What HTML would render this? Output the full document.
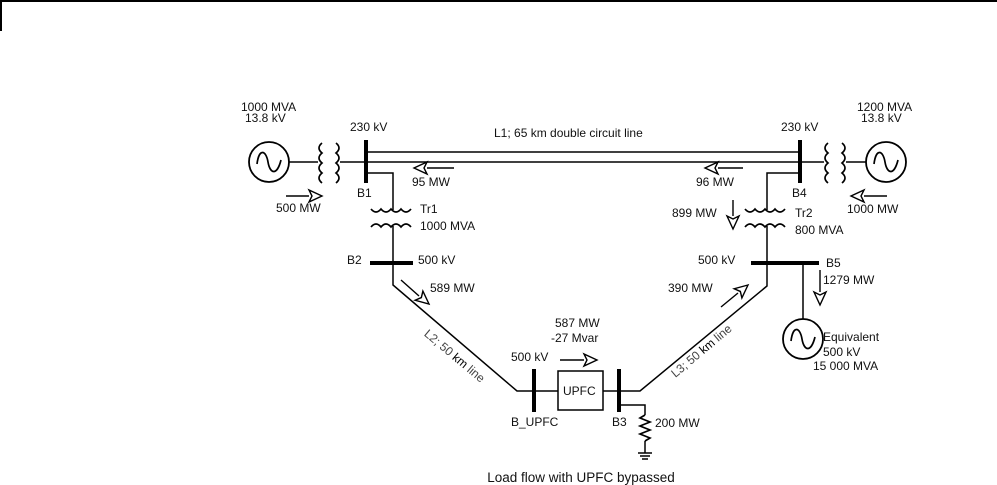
<!DOCTYPE html>
<html><head><meta charset="utf-8"><style>
html,body{margin:0;padding:0;background:#fff}
svg{display:block}
text{font-family:"Liberation Sans",sans-serif;font-size:12px;fill:#111}
</style></head><body>
<svg width="997" height="485" viewBox="0 0 997 485" xmlns="http://www.w3.org/2000/svg">
<line x1="0" y1="1" x2="997" y2="1" stroke="#000" stroke-width="2"/>
<line x1="1" y1="0" x2="1" y2="31" stroke="#000" stroke-width="2"/>
<g stroke="#000" fill="none" stroke-width="1.5">
<circle cx="269" cy="162" r="20" stroke-width="1.8"/>
<path d="M257 164 C259 148,266 150,268 162 C270 174,277 176,281 160" stroke-width="1.7"/>
<line x1="289" y1="162" x2="318" y2="162"/>
<path d="M322 143 q-6 5 0 10 q-6 5 0 10 q-6 5 0 10 q-6 5 0 10" stroke-width="1.7"/>
<path d="M336 143 q6 5 0 10 q6 5 0 10 q6 5 0 10 q6 5 0 10" stroke-width="1.7"/>
<line x1="340" y1="162" x2="366" y2="162"/>
<line x1="366" y1="140" x2="366" y2="183" stroke-width="4"/>
<line x1="366" y1="152" x2="800" y2="152"/>
<line x1="366" y1="162" x2="800" y2="162"/>
<line x1="800" y1="140" x2="800" y2="183" stroke-width="4"/>
<polyline points="366,173 393,173 393,210"/>
<path d="M371 209 q5 6 10 0 q5 6 10 0 q5 6 10 0 q5 6 10 0" stroke-width="1.7"/>
<path d="M371 227 q5 -6 10 0 q5 -6 10 0 q5 -6 10 0 q5 -6 10 0" stroke-width="1.7"/>
<polyline points="393,226 393,285 517,391 534,391"/>
<line x1="370" y1="263" x2="413" y2="263" stroke-width="4"/>
<line x1="534" y1="369" x2="534" y2="412" stroke-width="4"/>
<line x1="534" y1="391" x2="558" y2="391"/>
<rect x="558" y="371" width="45" height="39"/>
<line x1="603" y1="391" x2="619" y2="391"/>
<line x1="619" y1="369" x2="619" y2="412" stroke-width="4"/>
<polyline points="619,391 640,391 767,286 767,263"/>
<polyline points="619,405 645,405 645,415"/>
<path d="M645 415 l-5 3 l10 4 l-10 4 l10 4 l-10 4 l10 4 l-5 3" stroke-width="1.7"/>
<line x1="645" y1="441" x2="645" y2="453"/>
<line x1="638" y1="453" x2="652" y2="453"/>
<line x1="640" y1="456" x2="650" y2="456"/>
<line x1="642" y1="459" x2="648" y2="459"/>
<line x1="751" y1="263" x2="819" y2="263" stroke-width="4"/>
<line x1="803" y1="263" x2="803" y2="319"/>
<circle cx="803" cy="339" r="20" stroke-width="1.8"/>
<path d="M791 341 C793 325,800 327,802 339 C804 351,811 353,815 337" stroke-width="1.7"/>
<polyline points="800,173 767,173 767,210"/>
<path d="M745 209 q5 6 10 0 q5 6 10 0 q5 6 10 0 q5 6 10 0" stroke-width="1.7"/>
<path d="M745 227 q5 -6 10 0 q5 -6 10 0 q5 -6 10 0 q5 -6 10 0" stroke-width="1.7"/>
<line x1="767" y1="226" x2="767" y2="263"/>
<line x1="800" y1="162" x2="824" y2="162"/>
<path d="M828 143 q-6 5 0 10 q-6 5 0 10 q-6 5 0 10 q-6 5 0 10" stroke-width="1.7"/>
<path d="M842 143 q6 5 0 10 q6 5 0 10 q6 5 0 10 q6 5 0 10" stroke-width="1.7"/>
<line x1="846" y1="162" x2="866" y2="162"/>
<circle cx="886" cy="162" r="20" stroke-width="1.8"/>
<path d="M874 164 C876 148,883 150,885 162 C887 174,894 176,898 160" stroke-width="1.7"/>
</g>
<g stroke="#000" stroke-width="1.4" fill="#fff">
<line x1="454" y1="168" x2="427" y2="168"/><path transform="translate(414,168) rotate(180)" d="M0 0 L-13 -6 L-10 0 L-13 6 Z"/>
<line x1="286" y1="196" x2="309" y2="196"/><path transform="translate(322,196)" d="M0 0 L-13 -6 L-10 0 L-13 6 Z"/>
<line x1="743" y1="168" x2="718" y2="168"/><path transform="translate(705,168) rotate(180)" d="M0 0 L-13 -6 L-10 0 L-13 6 Z"/>
<line x1="887" y1="196" x2="864" y2="196"/><path transform="translate(851,196) rotate(180)" d="M0 0 L-13 -6 L-10 0 L-13 6 Z"/>
<line x1="733" y1="200" x2="733" y2="216"/><path transform="translate(733,229) rotate(90)" d="M0 0 L-13 -6 L-10 0 L-13 6 Z"/>
<line x1="820" y1="270" x2="820" y2="292"/><path transform="translate(820,305) rotate(90)" d="M0 0 L-13 -6 L-10 0 L-13 6 Z"/>
<line x1="401" y1="280" x2="419" y2="296"/><path transform="translate(429,304) rotate(40)" d="M0 0 L-13 -6 L-10 0 L-13 6 Z"/>
<line x1="721" y1="307" x2="738" y2="293"/><path transform="translate(748,285) rotate(-40)" d="M0 0 L-13 -6 L-10 0 L-13 6 Z"/>
<line x1="560" y1="360" x2="584" y2="360"/><path transform="translate(597,360)" d="M0 0 L-13 -6 L-10 0 L-13 6 Z"/>
</g>
<g>
<text x="241" y="111">1000 MVA</text><text x="245" y="122">13.8 kV</text>
<text x="350" y="131">230 kV</text>
<text x="494" y="137">L1; 65 km double circuit line</text>
<text x="781" y="131">230 kV</text>
<text x="857" y="111">1200 MVA</text><text x="861" y="122">13.8 kV</text>
<text x="412" y="186">95 MW</text>
<text x="696" y="186">96 MW</text>
<text x="276" y="212">500 MW</text>
<text x="357" y="197">B1</text>
<text x="792" y="197">B4</text>
<text x="847" y="213">1000 MW</text>
<text x="420" y="213">Tr1</text><text x="420" y="230">1000 MVA</text>
<text x="672" y="217">899 MW</text>
<text x="795" y="217">Tr2</text><text x="795" y="234">800 MVA</text>
<text x="347" y="264">B2</text><text x="418" y="264">500 kV</text>
<text x="698" y="264">500 kV</text><text x="826" y="267">B5</text>
<text x="430" y="292">589 MW</text>
<text x="668" y="292">390 MW</text>
<text x="823" y="284">1279 MW</text>
<text x="555" y="327">587 MW</text><text x="551" y="342">-27 Mvar</text>
<text x="511" y="361">500 kV</text>
<text x="563" y="395">UPFC</text>
<text x="823" y="341">Equivalent</text><text x="823" y="356">500 kV</text><text x="813" y="370">15 000 MVA</text>
<text x="511" y="426">B_UPFC</text><text x="612" y="426">B3</text>
<text x="655" y="427">200 MW</text>
<text x="581" y="482" text-anchor="middle" style="font-size:13.5px">Load flow with UPFC bypassed</text>
<text x="452" y="359" text-anchor="middle" transform="rotate(40 452 359)" style="fill:#444">L2; 50 <tspan style="fill:#000">km</tspan> line</text>
<text x="704" y="354" text-anchor="middle" transform="rotate(-40 704 354)" style="fill:#444">L3; 50 <tspan style="fill:#000">km</tspan> line</text>
</g>
</svg>
</body></html>
